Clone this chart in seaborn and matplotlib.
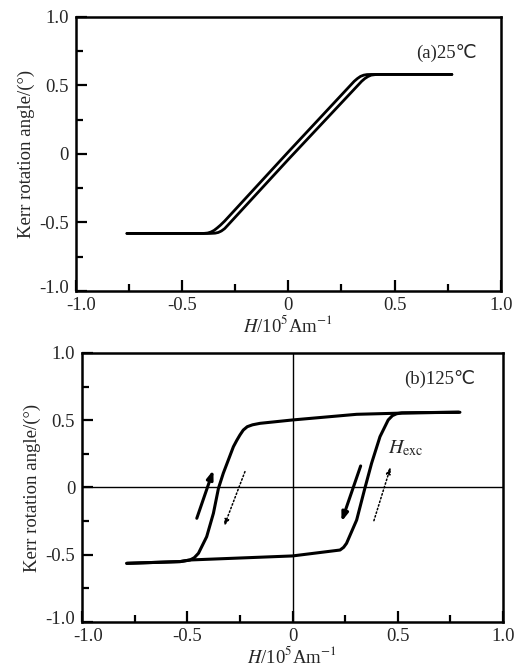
import matplotlib
matplotlib.use("Agg")
import matplotlib.pyplot as plt
import matplotlib.transforms as mtransforms
import seaborn as sns
from matplotlib.ticker import MultipleLocator, FixedLocator

sns.set_style("ticks")
plt.rcParams['font.family'] = ['Liberation Serif', 'DejaVu Sans']
plt.rcParams['mathtext.fontset'] = 'stix'

# ---- Panel (a) 25 C: two nearly overlapping branches ----
a_down_H = [0.77, 0.43, 0.39, 0.37, 0.355, 0.34, 0.325, 0.31, 0.0, -0.30, -0.32, -0.335, -0.35, -0.365, -0.38, -0.40, -0.76]
a_down_K = [0.58, 0.58, 0.58, 0.579, 0.575, 0.566, 0.55, 0.53, 0.015, -0.49, -0.52, -0.54, -0.558, -0.57, -0.577, -0.58, -0.58]
a_up_H = [-0.76, -0.37, -0.345, -0.33, -0.315, -0.30, -0.285, 0.0, 0.33, 0.345, 0.36, 0.375, 0.39, 0.41, 0.43, 0.77]
a_up_K = [-0.58, -0.58, -0.578, -0.573, -0.562, -0.545, -0.52, -0.04, 0.505, 0.53, 0.55, 0.565, 0.575, 0.579, 0.58, 0.58]

# ---- Panel (b) 125 C: square hysteresis loop ----
b_down_H = [0.79, 0.60, 0.52, 0.495, 0.305, 0.0, -0.154, -0.19, -0.215, -0.234, -0.25, -0.265, -0.281, -0.329,
            -0.352, -0.376, -0.408, -0.447, -0.467, -0.487, -0.534, -0.788]
b_down_K = [0.56, 0.556, 0.554, 0.552, 0.544, 0.502, 0.477, 0.466, 0.452, 0.427, 0.39, 0.35, 0.303, 0.106,
            -0.006, -0.192, -0.366, -0.489, -0.522, -0.539, -0.551, -0.564]
b_up_H = [-0.788, -0.534, -0.487, 0.0, 0.226, 0.243, 0.257, 0.275, 0.305, 0.344, 0.376, 0.416, 0.455,
          0.475, 0.495, 0.52, 0.60, 0.796]
b_up_K = [-0.564, -0.551, -0.539, -0.509, -0.465, -0.445, -0.415, -0.35, -0.242, -0.006, 0.18, 0.378, 0.502,
          0.534, 0.548, 0.554, 0.556, 0.559]

# arrows (start H, start K, end H, end K)
solid_arrows = [(-0.455, -0.229, -0.376, 0.13), (0.324, 0.160, 0.233, -0.254)]
dotted_arrows = [(-0.226, 0.118, -0.326, -0.291), (0.387, -0.247, 0.467, 0.155)]

xticks = [-1.0, -0.5, 0.0, 0.5, 1.0]
xticklabels = ['-1.0', '-0.5', '0', '0.5', '1.0']
yticks = [-1.0, -0.5, 0.0, 0.5, 1.0]
yticklabels = ['-1.0', '-0.5', '0', '0.5', '1.0']

fig = plt.figure(figsize=(5.2, 6.67), dpi=100)
ax1 = fig.add_axes([0.146, 0.5637, 0.817, 0.411])
ax2 = fig.add_axes([0.158, 0.0675, 0.809, 0.4033])

FS = 13.5

def style(ax):
    ax.set_xlim(-1, 1)
    ax.set_ylim(-1, 1)
    ax.xaxis.set_major_locator(FixedLocator(xticks))
    ax.yaxis.set_major_locator(FixedLocator(yticks))
    ax.set_xticklabels(xticklabels)
    ax.set_yticklabels(yticklabels)
    ax.xaxis.set_minor_locator(MultipleLocator(0.25))
    ax.yaxis.set_minor_locator(MultipleLocator(0.25))
    ax.tick_params(which='both', direction='in', top=False, right=False,
                   width=1.6, labelsize=FS, color='black')
    ax.tick_params(axis='x', pad=4)
    ax.tick_params(axis='y', pad=5)
    ax.tick_params(which='major', length=8)
    ax.tick_params(which='minor', length=5)
    for s in ax.spines.values():
        s.set_linewidth(1.8)
        s.set_color('black')
        s.set_visible(True)
    ax.set_xlabel(r'$H$/10$^5$Am$^{-1}$', fontsize=FS, labelpad=1)
    ax.set_ylabel('Kerr rotation angle/(°)', fontsize=FS, labelpad=3)
    # nudge the corner labels apart as in the reference
    fig.canvas.draw()
    ylab = ax.get_yticklabels()[0]
    ylab.set_transform(ylab.get_transform() + mtransforms.ScaledTranslation(0, 3 / 72, fig.dpi_scale_trans))
    xlab = ax.get_xticklabels()[0]
    xlab.set_transform(xlab.get_transform() + mtransforms.ScaledTranslation(4 / 72, 0, fig.dpi_scale_trans))

# panel a
for H, K in [(a_down_H, a_down_K), (a_up_H, a_up_K)]:
    sns.lineplot(x=H, y=K, sort=False, estimator=None, color='black', linewidth=2.0, ax=ax1)
style(ax1)
ax1.text(0.887, 0.737, '(a)25℃', fontsize=FS, ha='right', va='center')

# panel b
ax2.axhline(0, color='black', linewidth=1.0)
ax2.axvline(0, color='black', linewidth=1.0)
for H, K in [(b_down_H, b_down_K), (b_up_H, b_up_K)]:
    sns.lineplot(x=H, y=K, sort=False, estimator=None, color='black', linewidth=2.2, ax=ax2)
style(ax2)
ax2.text(0.87, 0.81, '(b)125℃', fontsize=FS, ha='right', va='center')
ax2.text(0.455, 0.29, r'$H_{\mathrm{exc}}$', fontsize=FS + 1, ha='left', va='center')

for x0, y0, x1, y1 in solid_arrows:
    ax2.annotate('', xy=(x1, y1), xytext=(x0, y0),
                 arrowprops=dict(arrowstyle='-|>,head_length=0.5,head_width=0.18',
                                 color='black', lw=2.2, shrinkA=0, shrinkB=0))
for x0, y0, x1, y1 in dotted_arrows:
    ax2.annotate('', xy=(x1, y1), xytext=(x0, y0),
                 arrowprops=dict(arrowstyle='-|>,head_length=0.4,head_width=0.13',
                                 color='black', lw=1.1, linestyle=(0, (1, 1.5)),
                                 shrinkA=0, shrinkB=0))

fig.savefig('out.png', dpi=100)
